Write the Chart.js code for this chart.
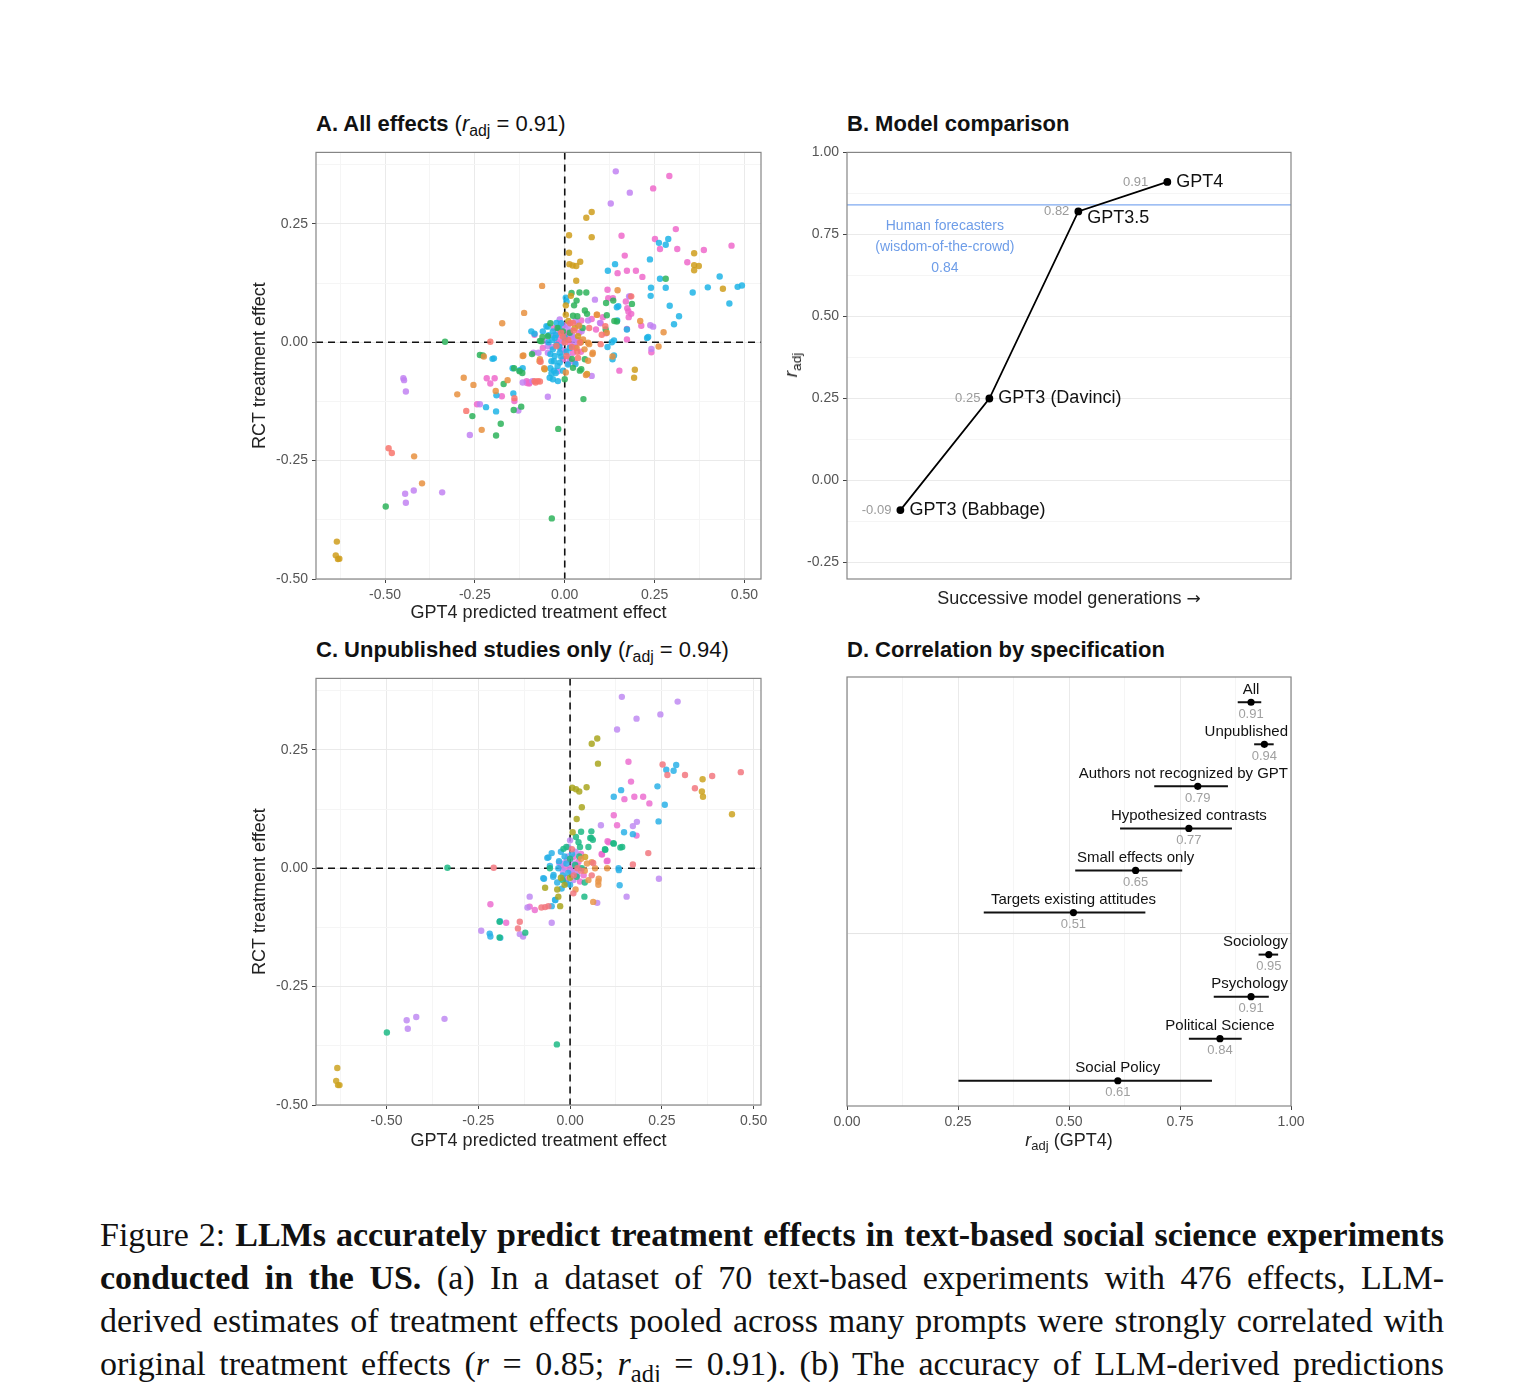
<!DOCTYPE html>
<html>
<head>
<meta charset="utf-8">
<script src="https://cdn.jsdelivr.net/npm/chart.js@4.4.1/dist/chart.umd.min.js"></script>
<style>
  body { margin: 0; background: #fff; width: 1518px; height: 1382px; position: relative; overflow: hidden;
         font-family: "Liberation Sans", Arial, sans-serif; color: #111; }
  .panel { position: absolute; width: 540px; height: 490px; }
  .title { position: absolute; font-size: 22px; line-height: 26px; white-space: nowrap; }
  .axt { position: absolute; font-size: 18px; line-height: 22px; white-space: nowrap; color: #222; }
  .arrow { font-family: "DejaVu Sans", sans-serif; font-size: 17px; }
  sub { font-size: 0.72em; vertical-align: -0.3em; line-height: 0; font-style: normal; }
  .caption { position: absolute; left: 100px; top: 1213px; width: 1344px;
             font-family: "Liberation Serif", "Times New Roman", serif; font-size: 34px; color: #111; }
  .caption div { height: 43px; line-height: 43px; white-space: nowrap; text-align: justify; text-align-last: justify; }
</style>
</head>
<body>

<div class="title" style="left:316px; top:111px;"><b>A. All effects</b> (<i>r</i><sub>adj</sub> = 0.91)</div>
<div class="title" style="left:847px; top:111px;"><b>B. Model comparison</b></div>
<div class="title" style="left:316px; top:637px;"><b>C. Unpublished studies only</b> (<i>r</i><sub>adj</sub> = 0.94)</div>
<div class="title" style="left:847px; top:637px;"><b>D. Correlation by specification</b></div>

<div class="panel" style="left:236px; top:140px;"><canvas id="chartA" width="540" height="490"></canvas></div>
<div class="panel" style="left:770px; top:140px;"><canvas id="chartB" width="540" height="490"></canvas></div>
<div class="panel" style="left:236px; top:666px;"><canvas id="chartC" width="540" height="490"></canvas></div>
<div class="panel" style="left:770px; top:666px;"><canvas id="chartD" width="540" height="490"></canvas></div>

<div class="axt" style="left:791px; top:365px; font-size:19px; transform: translate(-50%,-50%) rotate(-90deg);"><i>r</i><sub>adj</sub></div>
<div class="axt" style="left:1069px; top:598px; transform: translate(-50%,-50%);">Successive model generations <span class="arrow">&rarr;</span></div>
<div class="axt" style="left:1069px; top:1140px; transform: translate(-50%,-50%);"><i>r</i><sub>adj</sub> (GPT4)</div>

<div class="caption">
  <div>Figure 2: <b>LLMs accurately predict treatment effects in text-based social science experiments</b></div>
  <div><b>conducted in the US.</b> (a) In a dataset of 70 text-based experiments with 476 effects, LLM-</div>
  <div>derived estimates of treatment effects pooled across many prompts were strongly correlated with</div>
  <div>original treatment effects (<i>r</i> = 0.85; <i>r<sub>adj</sub></i> = 0.91). (b) The accuracy of LLM-derived predictions</div>
</div>

<script>
// ---- Panel A: all effects, [GPT4 prediction, RCT effect] grouped by colour ----
const aSalmon = [[0.185,0.097],[0.113,0.034],[0.068,0.030],[0.100,-0.004],[-0.207,0.001],[-0.067,-0.041],[-0.140,-0.118],
  [-0.081,-0.085],[-0.069,-0.083],[-0.274,-0.145],[-0.490,-0.224],[-0.481,-0.234],[0.103,0.016],[0.023,0.041],[0.042,-0.001],
  [0.005,-0.029],[0.037,-0.033],[-0.023,-0.008],[-0.075,-0.082],[-0.084,-0.082],[0.010,0.005],[-0.005,0.012],[0.020,-0.010],
  [0.000,0.000],[0.025,0.025],[-0.010,0.020],[0.035,-0.020],[0.015,0.040]];
const aOrange = [[-0.063,0.119],[0.147,0.110],[0.090,0.058],[0.210,0.045],[0.275,0.021],[0.261,-0.009],[0.068,-0.004],
  [0.077,-0.025],[-0.113,0.062],[-0.174,0.040],[-0.225,-0.030],[-0.115,-0.028],[-0.069,-0.036],[-0.057,-0.055],[-0.159,-0.080],
  [-0.281,-0.075],[-0.254,-0.090],[-0.299,-0.110],[-0.192,-0.103],[-0.231,-0.185],[-0.419,-0.241],[-0.397,-0.298],[0.089,0.058],
  [0.117,0.020],[0.078,-0.022],[0.059,-0.069],[0.065,-0.039],[0.003,-0.064],[-0.070,-0.040],[-0.117,-0.029],[0.033,-0.012],
  [0.051,0.006],[0.065,-0.001],[0.133,-0.030],[0.040,0.035],[0.055,-0.015]];
const aGold = [[0.060,0.263],[0.075,0.275],[0.075,0.222],[0.012,0.226],[0.012,0.189],[0.013,0.165],[0.022,0.162],[0.032,0.161],
  [0.043,0.170],[0.032,0.130],[0.360,0.188],[0.360,0.163],[0.373,0.161],[0.360,0.152],[0.440,0.113],[0.195,-0.058],[0.193,-0.075],
  [0.062,-0.067],[0.017,0.098],[0.003,0.078],[0.003,0.058],[-0.056,-0.057],[0.037,0.013],[0.028,0.030],[-0.634,-0.421],
  [-0.637,-0.450],[-0.631,-0.458],[-0.627,-0.457],[0.010,0.045],[0.045,0.000]];
const aGreen = [[0.281,0.134],[0.115,0.083],[0.138,0.045],[0.052,-0.120],[0.056,-0.036],[0.046,-0.057],[0.041,0.105],[0.060,0.105],
  [0.026,0.078],[0.023,0.056],[0.056,0.067],[0.062,0.060],[0.019,0.104],[0.033,0.088],[0.117,0.057],[0.114,0.027],[0.135,0.088],
  [0.145,0.044],[0.187,0.081],[0.042,-0.060],[0.023,-0.054],[0.000,-0.078],[-0.062,0.011],[-0.069,0.003],[-0.333,0.001],
  [-0.236,-0.027],[-0.228,-0.028],[-0.141,-0.055],[-0.118,-0.065],[-0.170,-0.088],[-0.257,-0.156],[-0.142,-0.143],[-0.121,-0.136],
  [-0.178,-0.172],[-0.191,-0.197],[-0.018,-0.183],[-0.036,-0.372],[-0.498,-0.347],[-0.091,-0.025],[-0.065,0.002],[-0.047,0.013],
  [-0.005,0.023],[0.014,0.020],[-0.126,-0.061],[0.020,-0.035],[-0.020,0.030],[0.035,0.055],[0.050,0.030],[-0.040,0.040]];
const aCyan = [[0.262,0.210],[0.288,0.218],[0.281,0.206],[0.237,0.175],[0.140,0.165],[0.120,0.151],[0.265,0.134],[0.281,0.115],
  [0.240,0.115],[0.239,0.098],[0.356,0.105],[0.398,0.116],[0.431,0.139],[0.481,0.117],[0.493,0.120],[0.458,0.082],[0.292,0.077],
  [0.318,0.055],[0.304,0.038],[0.149,0.076],[0.146,0.046],[0.232,0.011],[0.131,0.000],[0.137,0.004],[0.133,-0.036],[0.137,-0.028],
  [0.030,-0.046],[0.003,0.094],[0.005,0.086],[0.145,0.074],[0.173,0.027],[0.229,0.009],[0.119,-0.010],[-0.084,0.018],[-0.047,0.033],
  [-0.197,-0.034],[-0.125,-0.059],[-0.117,-0.055],[-0.190,-0.112],[-0.143,-0.108],[-0.219,-0.137],[-0.191,-0.146],[-0.093,0.023],
  [-0.061,0.023],[-0.051,0.034],[-0.033,0.023],[-0.023,0.041],[-0.028,0.009],[-0.023,-0.005],[0.014,-0.012],[-0.014,-0.022],
  [-0.028,-0.029],[-0.037,-0.040],[-0.019,-0.082],[-0.033,-0.078],[-0.042,-0.075],[-0.037,-0.066],[-0.014,-0.043],[0.009,-0.047],
  [-0.145,-0.055],[-0.201,-0.035],[-0.033,-0.015],[-0.016,0.030],[-0.040,-0.055],[-0.030,-0.060],[-0.010,-0.030],[-0.045,0.000],
  [-0.005,-0.060],[-0.035,0.005],[-0.025,0.015],[-0.015,-0.010],[-0.040,-0.025],[-0.020,-0.050],[0.000,0.010],[-0.010,0.040],
  [-0.030,-0.040],[-0.045,0.015],[-0.025,-0.065],[0.005,-0.020]];
const aViolet = [[0.142,0.361],[0.181,0.316],[0.128,0.293],[0.179,0.097],[0.084,0.090],[0.238,0.036],[0.246,0.033],[0.241,-0.014],
  [0.075,-0.071],[0.065,0.046],[0.182,0.097],[0.098,0.041],[-0.057,0.003],[-0.087,-0.022],[-0.090,-0.082],[-0.047,-0.115],
  [-0.236,-0.131],[-0.129,-0.144],[-0.264,-0.196],[-0.449,-0.076],[-0.447,-0.080],[-0.442,-0.104],[-0.420,-0.313],[-0.444,-0.320],
  [-0.442,-0.339],[-0.341,-0.317],[-0.019,-0.061],[-0.047,-0.022],[-0.073,-0.022],[-0.014,0.048],[0.009,0.037],[0.037,0.037],
  [0.005,0.006],[0.028,-0.001],[0.047,0.023],[0.014,-0.040],[-0.047,-0.008],[-0.117,-0.085],[-0.030,0.015],[-0.010,-0.015],[0.020,0.015],
  [-0.005,0.000],[0.015,0.025],[0.025,0.010],[-0.020,0.025],[0.010,-0.030],[-0.035,-0.010],[0.030,0.045],[0.000,0.030]];
const aPink = [[0.291,0.351],[0.246,0.325],[0.158,0.225],[0.309,0.239],[0.251,0.218],[0.265,0.197],[0.313,0.197],[0.387,0.195],
  [0.464,0.204],[0.341,0.169],[0.167,0.183],[0.147,0.146],[0.173,0.151],[0.198,0.151],[0.216,0.138],[0.119,0.111],[0.174,0.072],
  [0.134,0.093],[0.178,0.053],[0.185,0.060],[0.213,0.035],[0.173,0.028],[0.173,0.006],[0.100,0.040],[0.115,0.019],[0.106,0.053],
  [0.241,-0.021],[0.152,-0.060],[0.046,0.046],[0.075,0.049],[0.087,0.027],[0.121,0.093],[0.170,0.086],[0.177,0.065],[-0.195,-0.076],
  [-0.217,-0.076],[-0.207,-0.087],[-0.175,-0.114],[-0.140,-0.124],[-0.106,-0.082],[-0.099,-0.087],[-0.244,-0.131],[-0.084,0.016],
  [-0.005,0.037],[-0.014,0.016],[-0.009,-0.001],[0.019,0.009],[0.000,-0.019],[-0.005,-0.036],[0.023,-0.022],[0.028,-0.043],
  [-0.061,-0.012],[-0.098,-0.085],[-0.105,-0.086],[0.010,0.020],[-0.020,0.000],[0.035,0.005],[0.005,0.015],[-0.015,0.005],
  [0.030,-0.010],[0.015,-0.005],[-0.030,0.030],[0.040,0.020],[0.010,-0.045],[0.045,-0.020]];

// ---- Panel C: unpublished studies only ----
const cViolet = [[0.141,0.362],[0.293,0.352],[0.246,0.325],[0.181,0.316],[0.128,0.293],[0.084,0.091],[0.171,0.089],[0.182,0.098],
  [0.242,-0.022],[0.154,-0.060],[0.074,-0.073],[0.000,0.059],[-0.005,0.045],[-0.110,-0.060],[-0.116,-0.083],[-0.050,-0.115],
  [-0.242,-0.132],[-0.137,-0.139],[-0.128,-0.144],[-0.445,-0.321],[-0.419,-0.314],[-0.442,-0.339],[-0.342,-0.318],[-0.018,0.010],
  [0.000,-0.005],[0.014,-0.008],[0.009,-0.025],[-0.030,0.012],[0.010,0.010],[-0.005,0.025],[0.020,-0.015],[0.015,0.035],[-0.020,-0.005]];
const cPink = [[0.159,0.225],[0.166,0.183],[0.148,0.146],[0.175,0.151],[0.199,0.151],[0.216,0.137],[0.119,0.112],[0.128,0.091],
  [0.181,0.069],[0.102,0.057],[0.086,0.030],[0.102,0.016],[0.087,0.029],[0.100,0.015],[0.105,0.055],[-0.217,-0.076],[-0.096,-0.088],
  [-0.110,-0.081],[-0.174,-0.115],[0.009,0.024],[-0.009,0.017],[0.023,0.014],[0.005,-0.008],[-0.014,0.000],[0.027,-0.028],
  [0.037,-0.015],[-0.015,-0.020],[0.000,0.000],[0.020,0.005],[-0.010,-0.030],[0.030,0.030],[-0.025,0.005]];
const cSalmon = [[0.252,0.219],[0.265,0.197],[0.313,0.197],[0.387,0.195],[0.465,0.203],[0.340,0.169],[0.213,0.032],[0.171,0.008],
  [0.063,0.011],[0.059,-0.015],[0.009,-0.053],[-0.208,0.001],[-0.059,-0.080],[-0.068,-0.082],[-0.078,-0.083],[-0.137,-0.113],
  [-0.142,-0.127],[0.020,0.000],[0.010,-0.015],[0.030,-0.005],[0.005,0.040]];
const cGold = [[0.361,0.188],[0.359,0.162],[0.362,0.151],[0.441,0.114],[0.041,0.024],[-0.634,-0.422],[-0.637,-0.449],
  [-0.632,-0.458],[-0.628,-0.458]];
const cOlive = [[0.059,0.263],[0.074,0.274],[0.076,0.221],[0.006,0.170],[0.016,0.167],[0.025,0.162],[0.045,0.171],[0.032,0.129],
  [0.018,0.104],[0.007,0.076],[-0.032,-0.060],[-0.027,-0.080],[-0.068,-0.041],[-0.015,-0.035],[-0.025,-0.020],[0.000,-0.020],
  [-0.035,-0.045]];
const cOrange = [[0.101,0.000],[0.063,-0.071],[0.077,-0.028],[0.077,-0.035],[0.046,0.010],[0.059,0.013],[0.068,0.000],
  [0.078,-0.022],[0.015,-0.045],[0.030,0.020],[0.040,-0.005],[0.050,-0.025]];
const cGreen = [[0.058,0.078],[0.058,0.064],[0.030,0.077],[0.118,0.053],[0.137,0.044],[0.095,0.040],[0.039,-0.060],[-0.334,0.001],
  [-0.122,-0.136],[-0.499,-0.347],[-0.036,-0.372],[0.016,0.066],[0.023,0.055],[0.027,0.045],[0.055,0.064],[0.062,0.060],
  [0.050,0.045],[0.096,0.039],[0.119,0.052],[0.142,0.045],[-0.055,0.000],[-0.018,0.041],[-0.192,-0.113],[-0.192,-0.146],
  [0.014,0.007],[0.032,0.000],[0.018,-0.018],[-0.020,-0.025],[0.000,0.020],[0.025,0.025],[-0.010,0.045],[0.040,-0.030]];
const cCyan = [[0.262,0.208],[0.282,0.206],[0.289,0.218],[0.139,0.165],[0.119,0.151],[0.258,0.134],[0.238,0.173],[0.241,0.099],
  [0.147,0.076],[0.171,0.072],[0.133,-0.004],[0.135,-0.036],[0.132,0.000],[-0.073,-0.021],[-0.050,0.032],[-0.059,0.023],
  [-0.055,0.005],[-0.045,-0.014],[-0.050,-0.080],[-0.040,-0.067],[-0.191,-0.112],[-0.219,-0.138],[-0.217,-0.144],[-0.190,-0.147],
  [-0.009,-0.032],[-0.023,-0.043],[-0.041,-0.067],[-0.071,-0.022],[-0.046,-0.018],[-0.062,0.022],[-0.032,0.000],[-0.005,-0.010],
  [0.000,-0.035],[-0.015,0.025],[0.005,0.030],[-0.030,0.015],[-0.020,-0.015],[-0.035,-0.030],[-0.010,0.010],[-0.025,0.035]];

// ---- Panel B: model comparison ----
const models = ['GPT3 (Babbage)', 'GPT3 (Davinci)', 'GPT3.5', 'GPT4'];
const modelR = [-0.09, 0.25, 0.82, 0.91];
const humanR = 0.84;

// ---- Panel D: correlation by specification ----
const specLabels = ['All', 'Unpublished', 'Authors not recognized by GPT', 'Hypothesized contrasts', 'Small effects only',
  'Targets existing attitudes', 'Sociology', 'Psychology', 'Political Science', 'Social Policy'];
const specR = [0.91, 0.94, 0.79, 0.77, 0.65, 0.51, 0.95, 0.91, 0.84, 0.61];
const specLow = [0.880, 0.917, 0.692, 0.615, 0.514, 0.308, 0.927, 0.826, 0.770, 0.251];
const specHigh = [0.933, 0.961, 0.858, 0.867, 0.755, 0.672, 0.971, 0.950, 0.889, 0.822];

// tick values (majors get labels, the rest are minor grid lines)
const xTicksAC = [-0.625, -0.5, -0.375, -0.25, -0.125, 0, 0.125, 0.25, 0.375, 0.5];
const yTicksAC = [-0.5, -0.375, -0.25, -0.125, 0, 0.125, 0.25, 0.375];
const yTicksB = [-0.25, -0.125, 0, 0.125, 0.25, 0.375, 0.5, 0.625, 0.75, 0.875, 1];
const xTicksD = [0, 0.125, 0.25, 0.375, 0.5, 0.625, 0.75, 0.875, 1];

Chart.defaults.font.family = '"Liberation Sans", Arial, sans-serif';

const FONT = '"Liberation Sans", Arial, sans-serif';
const isMajor = v => Math.abs(v / 0.25 - Math.round(v / 0.25)) < 1e-6;

function gridOpts(show) {
  return {
    display: show,
    color: c => (c.tick && isMajor(c.tick.value)) ? '#EAEAEA' : '#F5F5F5',
    lineWidth: 1,
    tickLength: 4,
    tickColor: c => (c.tick && isMajor(c.tick.value)) ? '#444' : 'rgba(0,0,0,0)'
  };
}
function tickOpts() {
  return {
    font: { size: 14 }, color: '#555', padding: 4, maxRotation: 0, autoSkip: false,
    callback: v => isMajor(v) ? v.toFixed(2) : ''
  };
}
const setTicks = vals => s => { s.ticks = vals.map(v => ({ value: v })); };

// panel frame
const frame = {
  id: 'frame',
  afterDraw(chart) {
    const { ctx, chartArea: a } = chart;
    ctx.save();
    ctx.strokeStyle = '#858585';
    ctx.lineWidth = 1.2;
    ctx.strokeRect(a.left, a.top, a.right - a.left, a.bottom - a.top);
    ctx.restore();
  }
};

// dashed zero lines for the scatter panels
const zeroLines = {
  id: 'zeroLines',
  beforeDatasetsDraw(chart) {
    const { ctx, chartArea: a, scales: { x, y } } = chart;
    const px = x.getPixelForValue(0), py = y.getPixelForValue(0);
    ctx.save();
    ctx.strokeStyle = '#111';
    ctx.lineWidth = 1.6;
    ctx.setLineDash([7, 5]);
    ctx.beginPath();
    ctx.moveTo(px, a.top); ctx.lineTo(px, a.bottom);
    ctx.moveTo(a.left, py); ctx.lineTo(a.right, py);
    ctx.stroke();
    ctx.restore();
  }
};

function scatterPanel(id, groups, xMax, xTitlePad) {
  return new Chart(document.getElementById(id), {
    type: 'scatter',
    data: {
      datasets: groups.map(([color, pts]) => ({
        data: pts.map(p => ({ x: p[0], y: p[1] })),
        backgroundColor: color, borderWidth: 0, pointRadius: 3.2, pointHoverRadius: 3.2
      }))
    },
    options: {
      responsive: false, animation: false,
      layout: { padding: { top: 11, right: 15, left: 0, bottom: 0 } },
      plugins: { legend: { display: false }, tooltip: { enabled: false } },
      scales: {
        x: {
          type: 'linear', min: -0.692, max: xMax,
          afterFit: s => { s.height = 490 - 11 - 428; },
          afterBuildTicks: setTicks(xTicksAC),
          grid: gridOpts(true), border: { display: false }, ticks: tickOpts(),
          title: { display: true, text: 'GPT4 predicted treatment effect', font: { size: 18 }, color: '#222',
                   padding: { top: 0, bottom: xTitlePad } }
        },
        y: {
          type: 'linear', min: -0.5, max: 0.401,
          afterFit: s => { s.width = 80; },
          afterBuildTicks: setTicks(yTicksAC),
          grid: gridOpts(true), border: { display: false }, ticks: tickOpts(),
          title: { display: true, text: 'RCT treatment effect', font: { size: 18 }, color: '#222',
                   padding: { top: 13, bottom: 0 } }
        }
      }
    },
    plugins: [zeroLines, frame]
  });
}

const ALPHA = 0.85;
const rgba = (hex) => {
  const n = parseInt(hex.slice(1), 16);
  return `rgba(${n >> 16},${(n >> 8) & 255},${n & 255},${ALPHA})`;
};

scatterPanel('chartA', [
  [rgba('#F8766D'), aSalmon], [rgba('#E8913F'), aOrange], [rgba('#CF9E1C'), aGold], [rgba('#2DB35A'), aGreen],
  [rgba('#1FB4E6'), aCyan], [rgba('#C283F2'), aViolet], [rgba('#EF6ACB'), aPink]
], 0.546, 6);

scatterPanel('chartC', [
  [rgba('#F2777F'), cSalmon], [rgba('#E9964A'), cOrange], [rgba('#A9A61E'), cOlive], [rgba('#CDA321'), cGold],
  [rgba('#1DBA85'), cGreen], [rgba('#2CB2E8'), cCyan], [rgba('#C08BF2'), cViolet], [rgba('#EC6FD0'), cPink]
], 0.52, 4);

// ---- B ----
const labelNudge = { 'GPT3.5': { nameDy: 7 }, 'GPT4': { valueDx: 19 } };
const humanLine = {
  id: 'humanLine',
  beforeDatasetsDraw(chart) {
    const { ctx, chartArea: a, scales: { x, y } } = chart;
    const py = y.getPixelForValue(humanR);
    ctx.save();
    ctx.strokeStyle = '#7FAAF0';
    ctx.lineWidth = 1.3;
    ctx.beginPath(); ctx.moveTo(a.left, py); ctx.lineTo(a.right, py); ctx.stroke();
    ctx.fillStyle = '#6E9DE8';
    ctx.font = '14px ' + FONT;
    ctx.textAlign = 'center'; ctx.textBaseline = 'middle';
    const tx = x.getPixelForValue(1.5);
    ctx.fillText('Human forecasters', tx, py + 21);
    ctx.fillText('(wisdom-of-the-crowd)', tx, py + 42);
    ctx.fillText(humanR.toFixed(2), tx, py + 63);
    ctx.restore();
  }
};
const modelLabels = {
  id: 'modelLabels',
  afterDatasetsDraw(chart) {
    const ctx = chart.ctx;
    const meta = chart.getDatasetMeta(0);
    ctx.save();
    ctx.textBaseline = 'middle';
    meta.data.forEach((pt, i) => {
      const n = labelNudge[models[i]] || {};
      ctx.font = '18px ' + FONT; ctx.fillStyle = '#111'; ctx.textAlign = 'left';
      ctx.fillText(models[i], pt.x + 9, pt.y + (n.nameDy || 0));
      ctx.font = '13px ' + FONT; ctx.fillStyle = '#9A9A9A'; ctx.textAlign = 'right';
      ctx.fillText(modelR[i].toFixed(2), pt.x - (n.valueDx || 9), pt.y);
    });
    ctx.restore();
  }
};

new Chart(document.getElementById('chartB'), {
  type: 'scatter',
  data: {
    datasets: [{
      data: modelR.map((r, i) => ({ x: i + 1, y: r })),
      showLine: true, borderColor: '#000', borderWidth: 1.8,
      backgroundColor: '#000', pointRadius: 3, pointHoverRadius: 3
    }]
  },
  options: {
    responsive: false, animation: false,
    layout: { padding: { top: 11, right: 19, left: 0, bottom: 0 } },
    plugins: { legend: { display: false }, tooltip: { enabled: false } },
    scales: {
      x: {
        type: 'linear', min: 0.4, max: 5.39,
        afterFit: s => { s.height = 51; },
        grid: { display: false }, border: { display: false }, ticks: { display: false }
      },
      y: {
        type: 'linear', min: -0.3, max: 1.0,
        afterFit: s => { s.width = 77; },
        afterBuildTicks: setTicks(yTicksB),
        grid: gridOpts(true), border: { display: false }, ticks: tickOpts()
      }
    }
  },
  plugins: [humanLine, modelLabels, frame]
});

// ---- D ----
const specBars = {
  id: 'specBars',
  beforeDatasetsDraw(chart) {
    const { ctx, chartArea: a, scales: { x, y } } = chart;
    ctx.save();
    const sy = y.getPixelForValue(5.5);
    ctx.strokeStyle = '#E4E4E4'; ctx.lineWidth = 1;
    ctx.beginPath(); ctx.moveTo(a.left, sy); ctx.lineTo(a.right, sy); ctx.stroke();
    ctx.strokeStyle = '#111'; ctx.lineWidth = 2;
    specR.forEach((r, i) => {
      const py = y.getPixelForValue(i);
      ctx.beginPath();
      ctx.moveTo(x.getPixelForValue(specLow[i]), py);
      ctx.lineTo(x.getPixelForValue(specHigh[i]), py);
      ctx.stroke();
    });
    ctx.restore();
  },
  afterDatasetsDraw(chart) {
    const { ctx, chartArea: a } = chart;
    const meta = chart.getDatasetMeta(0);
    ctx.save();
    ctx.textAlign = 'center'; ctx.textBaseline = 'middle';
    const clamp = (cx, w) => Math.max(a.left + 2 + w / 2, Math.min(cx, a.right - 3 - w / 2));
    meta.data.forEach((pt, i) => {
      ctx.font = '15px ' + FONT; ctx.fillStyle = '#111';
      const w1 = ctx.measureText(specLabels[i]).width;
      ctx.fillText(specLabels[i], clamp(pt.x, w1), pt.y - 12.5);
      ctx.font = '13px ' + FONT; ctx.fillStyle = '#A0A0A0';
      const t = specR[i].toFixed(2);
      const w2 = ctx.measureText(t).width;
      ctx.fillText(t, clamp(pt.x, w2), pt.y + 12);
    });
    ctx.restore();
  }
};

new Chart(document.getElementById('chartD'), {
  type: 'scatter',
  data: {
    datasets: [{
      data: specR.map((r, i) => ({ x: r, y: i })),
      backgroundColor: '#000', borderWidth: 0, pointRadius: 3.6, pointHoverRadius: 3.6
    }]
  },
  options: {
    responsive: false, animation: false,
    layout: { padding: { top: 11, right: 19, left: 0, bottom: 0 } },
    plugins: { legend: { display: false }, tooltip: { enabled: false } },
    scales: {
      x: {
        type: 'linear', min: 0, max: 1,
        afterFit: s => { s.height = 50; },
        afterBuildTicks: setTicks(xTicksD),
        grid: gridOpts(true), border: { display: false }, ticks: tickOpts()
      },
      y: {
        type: 'linear', min: -0.6, max: 9.6, reverse: true,
        afterFit: s => { s.width = 77; },
        grid: { display: false }, border: { display: false }, ticks: { display: false }
      }
    }
  },
  plugins: [specBars, frame]
});
</script>
</body>
</html>
